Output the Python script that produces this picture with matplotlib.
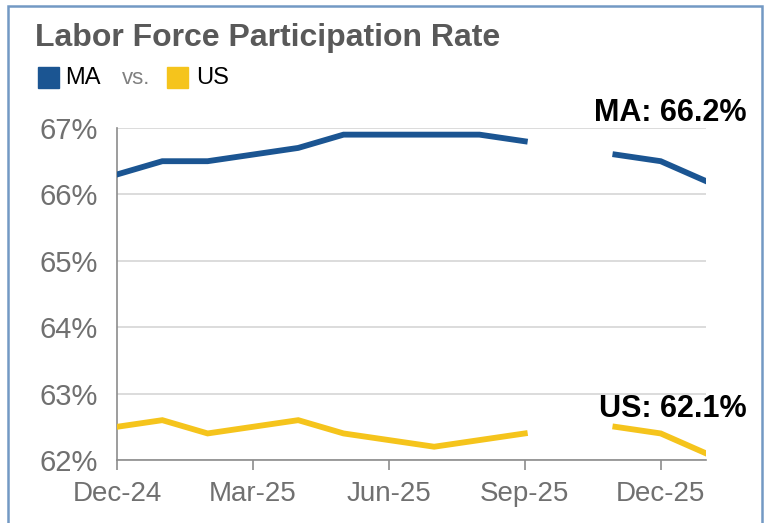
import matplotlib
matplotlib.use("Agg")
import matplotlib.pyplot as plt
import matplotlib.patches as mpatches
import numpy as np

months = ["Dec-24", "Jan-25", "Feb-25", "Mar-25", "Apr-25", "May-25", "Jun-25",
          "Jul-25", "Aug-25", "Sep-25", "Oct-25", "Nov-25", "Dec-25", "Jan-26"]
ma = [66.3, 66.5, 66.5, 66.6, 66.7, 66.9, 66.9, 66.9, 66.9, 66.8, np.nan, 66.6, 66.5, 66.2]
us = [62.5, 62.6, 62.4, 62.5, 62.6, 62.4, 62.3, 62.2, 62.3, 62.4, np.nan, 62.5, 62.4, 62.1]
yticks = [62, 63, 64, 65, 66, 67]
xtick_labels = ["Dec-24", "Mar-25", "Jun-25", "Sep-25", "Dec-25"]

MA_COLOR = "#1B5592"
US_COLOR = "#F5C41C"
GRAY = "#707070"

plt.rcParams['font.family'] = ['Liberation Sans', 'DejaVu Sans']

W, H = 764, 523
fig = plt.figure(figsize=(W/100, H/100), dpi=100)
fig.patch.set_facecolor("white")

ax = fig.add_axes([117/W, 1-460/H, (706-117)/W, (460-128)/H])
x = np.arange(len(months))
ax.plot(x, ma, color=MA_COLOR, lw=4.2, solid_joinstyle='miter', zorder=3)
ax.plot(x, us, color=US_COLOR, lw=4.2, solid_joinstyle='miter', zorder=3)

ax.set_xlim(0, len(months)-1)
ax.set_ylim(62, 67)
ax.set_yticks(yticks)
ax.set_yticklabels([f"{v}%" for v in yticks])
xt = [months.index(m) for m in xtick_labels]
ax.set_xticks(xt)
ax.set_xticklabels(xtick_labels)

ax.grid(axis='y', color="#D9D9D9", lw=1.3)
ax.set_axisbelow(True)
for s in ["top", "right"]:
    ax.spines[s].set_visible(False)
for s in ["left", "bottom"]:
    ax.spines[s].set_color("#8C8C8C")
    ax.spines[s].set_linewidth(1.2)
ax.tick_params(axis='y', length=0, pad=14, labelsize=21, labelcolor=GRAY)
ax.tick_params(axis='x', length=7, width=1.2, color="#8C8C8C", pad=8,
               labelsize=20, labelcolor=GRAY)

# Title and legend
fig.text(35/W, 1-38/H, "Labor Force Participation Rate", fontsize=23,
         fontweight='bold', color="#595959", va='center', ha='left')
fig.patches.append(mpatches.Rectangle((38/W, 1-88/H), 21/W, 21/H,
                                      transform=fig.transFigure, color=MA_COLOR))
fig.text(65/W, 1-78/H, "MA", fontsize=17, color="black", va='center', ha='left')
fig.text(122/W, 1-79/H, "vs.", fontsize=16, color="#808080", va='center', ha='left')
fig.patches.append(mpatches.Rectangle((167/W, 1-88/H), 21/W, 21/H,
                                      transform=fig.transFigure, color=US_COLOR))
fig.text(196/W, 1-78/H, "US", fontsize=17, color="black", va='center', ha='left')

# End labels
fig.text(747/W, 1-113/H, f"MA: {ma[-1]}%", fontsize=22, fontweight='bold',
         color='black', ha='right', va='center')
fig.text(747/W, 1-409/H, f"US: {us[-1]}%", fontsize=22, fontweight='bold',
         color='black', ha='right', va='center')

# Border
fig.patches.append(mpatches.Rectangle((8/W, -0.05), (762-8)/W, 1.05-6/H,
                                      transform=fig.transFigure, fill=False,
                                      edgecolor="#7399C4", lw=1.8))

fig.savefig("out.png", dpi=100)
